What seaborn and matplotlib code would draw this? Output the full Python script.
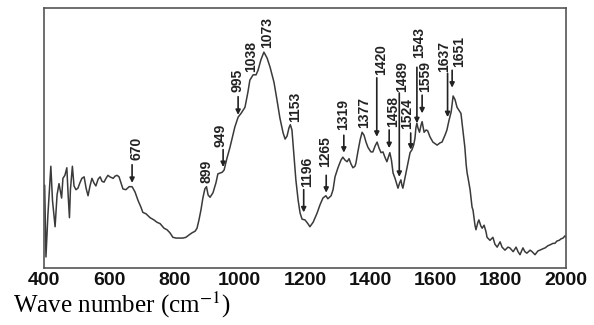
import matplotlib
matplotlib.use("Agg")
import matplotlib.pyplot as plt
import seaborn as sns
import pandas as pd

# ---- spectrum (wave number in cm^-1, relative intensity) ----
wavenumber = [402, 406, 412, 421, 426, 434, 440, 446, 454, 458, 464, 470, 474, 478, 481, 487,
              492, 498, 504, 510, 516, 523, 529, 535, 541, 547, 553, 559, 566, 572, 578, 584,
              590, 596, 602, 612, 618, 624, 630, 636, 642, 651, 661, 670, 679, 688, 697, 703,
              713, 725, 737, 746, 756, 768, 777, 786, 795, 805, 817, 826, 835, 844, 854, 863,
              869, 875, 881, 887, 893, 898, 903, 909, 918, 927, 933, 946, 952, 961, 970, 979,
              985, 995, 1004, 1016, 1025, 1031, 1041, 1050, 1056, 1065, 1074, 1084, 1093, 1105,
              1114, 1123, 1133, 1139, 1145, 1151, 1155, 1160, 1166, 1172, 1179, 1185, 1191,
              1200, 1209, 1215, 1225, 1237, 1246, 1255, 1264, 1270, 1280, 1286, 1292, 1301,
              1310, 1316, 1323, 1329, 1335, 1341, 1347, 1353, 1356, 1362, 1369, 1375, 1381,
              1387, 1393, 1402, 1408, 1415, 1421, 1427, 1433, 1439, 1445, 1451, 1460, 1465,
              1470, 1476, 1480, 1485, 1490, 1494, 1497, 1500, 1507, 1513, 1517, 1522, 1528,
              1533, 1537, 1540, 1543, 1546, 1551, 1556, 1559, 1562, 1565, 1571, 1576, 1583,
              1592, 1605, 1614, 1620, 1629, 1635, 1641, 1648, 1654, 1660, 1666, 1672, 1678,
              1684, 1690, 1694, 1697, 1700, 1706, 1712, 1715, 1721, 1724, 1730, 1733, 1739,
              1743, 1749, 1755, 1758, 1767, 1776, 1782, 1789, 1798, 1804, 1813, 1822, 1828,
              1838, 1847, 1853, 1859, 1868, 1874, 1880, 1890, 1896, 1905, 1914, 1920, 1930,
              1936, 1945, 1951, 1960, 1966, 1972, 1979, 1985, 1991, 1997, 2000]
intensity = [0.99, 0.04, 0.60, 1.24, 0.79, 0.44, 0.86, 1.01, 0.82, 1.08, 1.12, 1.22, 0.86, 0.56, 0.93, 1.24,
             0.98, 0.93, 0.95, 1.02, 1.08, 1.10, 0.95, 0.85, 0.98, 1.08, 1.02, 0.98, 1.07, 1.10, 1.04, 1.03,
             1.08, 1.12, 1.10, 1.08, 1.11, 1.12, 1.10, 1.02, 0.94, 0.93, 0.97, 0.97, 0.90, 0.79, 0.70, 0.63,
             0.61, 0.56, 0.53, 0.50, 0.48, 0.42, 0.40, 0.36, 0.30, 0.29, 0.29, 0.29, 0.30, 0.33, 0.36, 0.38,
             0.42, 0.53, 0.66, 0.82, 0.94, 0.97, 0.86, 0.83, 0.89, 1.02, 1.14, 1.16, 1.19, 1.35, 1.49, 1.65,
             1.76, 1.89, 1.94, 2.02, 2.22, 2.38, 2.45, 2.45, 2.51, 2.65, 2.75, 2.67, 2.55, 2.35,
             2.12, 1.88, 1.68, 1.60, 1.64, 1.75, 1.79, 1.72, 1.39, 1.06, 0.79, 0.62, 0.54,
             0.53, 0.48, 0.44, 0.50, 0.62, 0.73, 0.82, 0.85, 0.81, 0.85, 0.93, 1.10, 1.22,
             1.32, 1.36, 1.32, 1.30, 1.34, 1.27, 1.22, 1.24, 1.28, 1.43, 1.59, 1.69, 1.65,
             1.56, 1.49, 1.43, 1.43, 1.51, 1.56, 1.48, 1.42, 1.43, 1.36, 1.30, 1.42, 1.32,
             1.15, 1.08, 1.02, 0.95, 1.02, 1.06, 0.99, 0.95, 1.10, 1.23, 1.32, 1.42, 1.46,
             1.52, 1.61, 1.75, 1.81, 1.75, 1.69, 1.79, 1.83, 1.76, 1.69, 1.72, 1.71, 1.63,
             1.56, 1.52, 1.55, 1.56, 1.65, 1.72, 1.84, 1.96, 2.17, 2.12, 2.02, 1.98, 1.94,
             1.72, 1.49, 1.26, 1.15, 1.08, 0.93, 0.70, 0.66, 0.46, 0.40, 0.50, 0.53, 0.45,
             0.42, 0.46, 0.37, 0.30, 0.26, 0.30, 0.21, 0.17, 0.24, 0.17, 0.13, 0.17, 0.16,
             0.11, 0.17, 0.11, 0.07, 0.16, 0.11, 0.09, 0.13, 0.11, 0.07, 0.12, 0.13, 0.15,
             0.16, 0.19, 0.20, 0.22, 0.22, 0.25, 0.26, 0.28, 0.29, 0.32, 0.30]

# ---- peak labels ----
peak_labels = ["670", "899", "949", "995", "1038", "1073", "1153", "1196", "1265", "1319",
               "1377", "1420", "1458", "1489", "1524", "1543", "1559", "1637", "1651"]
peak_wn = [670, 899, 949, 995, 1038, 1073, 1153, 1196, 1265, 1319,
           1377, 1420, 1458, 1489, 1524, 1543, 1559, 1637, 1651]

# layout of annotations: text x, text bottom, arrow top, arrow bottom (None = no arrow)
text_x = [682, 897, 942, 992, 1034, 1083, 1169, 1206, 1261, 1316,
          1381, 1433, 1470, 1497, 1513, 1549, 1568, 1626, 1673]
text_y = [1.32, 1.02, 1.49, 2.22, 2.49, 2.80, 1.83, 0.97, 1.23, 1.72,
          1.75, 2.45, 1.76, 2.22, 1.73, 2.67, 2.22, 2.49, 2.55]
arrow_top = [1.26, None, 1.46, 2.16, None, None, None, 0.93, 1.12, 1.65,
             None, 2.41, 1.72, 2.21, 1.68, 2.55, 2.18, 2.47, 2.51]
arrow_bot = [1.02, None, 1.23, 1.92, None, None, None, 0.63, 0.89, 1.42,
             None, 1.63, 1.48, 1.10, 1.46, 1.81, 1.94, 1.89, 2.28]

x_ticks = [400, 600, 800, 1000, 1200, 1400, 1600, 1800, 2000]
y_ticks = [0, 1, 2, 3]

sns.set_style("white")
plt.rcParams["mathtext.fontset"] = "stix"

fig = plt.figure(figsize=(5.94, 3.25), dpi=100)
ax = fig.add_axes([44 / 594, 1 - 268.3 / 325, 522 / 594, 260 / 325])

df = pd.DataFrame({"wn": wavenumber, "I": intensity})
sns.lineplot(data=df, x="wn", y="I", ax=ax, color="#3a3a3a", lw=1.1,
             estimator=None, sort=False)

ax.set_xlim(400, 2000)
ax.set_ylim(-0.11, 3.33)
ax.set_xticks(x_ticks)
ax.set_xticklabels([str(t) for t in x_ticks], fontsize=14, fontweight="bold",
                   family="Liberation Sans", color="#111111")
ax.set_yticks(y_ticks)
ax.set_yticklabels([])
ax.tick_params(axis="both", direction="in", length=4, width=1, color="#555555")
ax.tick_params(axis="x", pad=3)
ax.set_xlabel("")
ax.set_ylabel("")
for s in ax.spines.values():
    s.set_visible(True)
    s.set_color("#555555")
    s.set_linewidth(1.2)

for lab, tx, ty, a0, a1, wn in zip(peak_labels, text_x, text_y, arrow_top, arrow_bot, peak_wn):
    ax.text(tx, ty, lab, rotation=90, ha="center", va="bottom", fontsize=10,
            fontweight="bold", family="Liberation Sans", color="#222222")
    if a0 is not None:
        ax.annotate("", xy=(wn, a1), xytext=(wn, a0),
                    arrowprops=dict(arrowstyle="-|>", color="#222222", lw=1.2,
                                    mutation_scale=7, shrinkA=0, shrinkB=0))

fig.text(13 / 594, 1 - 313 / 325, r"Wave number (cm$^{-1}$)", ha="left", va="baseline",
         fontsize=18, family="Liberation Serif", color="#000000")

fig.savefig("out.png", dpi=100)
